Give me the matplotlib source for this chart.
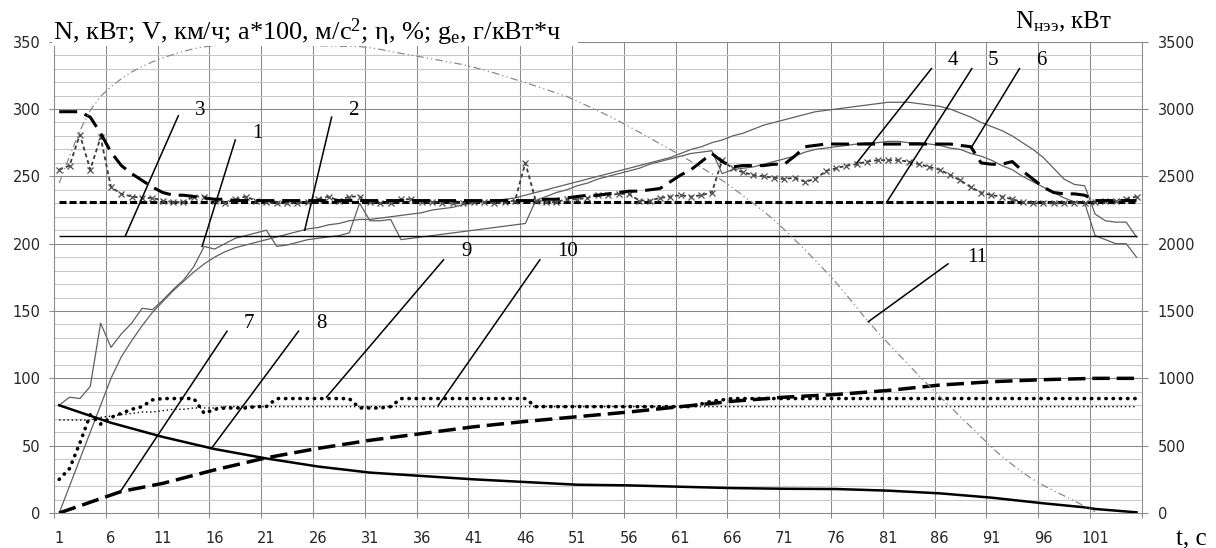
import numpy as np
import matplotlib.pyplot as plt
from matplotlib.patches import Rectangle

plt.rcParams['mathtext.fontset'] = 'custom'
plt.rcParams['mathtext.rm'] = 'Liberation Serif'
plt.rcParams['mathtext.it'] = 'Liberation Serif:italic'
plt.rcParams['mathtext.bf'] = 'Liberation Serif:bold'

# time, s (category axis)
t = np.arange(1, 106)

# 1 - zigzag power curve
curve_1 = [80, 86, 85, 94, 141, 123, 133, 141, 152, 151,
           158, 166, 173, 183, 198, 196, 200, 204, 206, 208,
           210, 198, 199, 201, 203, 204, 205, 206, 208, 230,
           217, 217, 218, 203, 204, 205, 206, 207, 208, 209,
           210, 211, 212, 213, 214, 215, 232, 235, 238, 240,
           243, 245, 248, 250, 252, 254, 256, 259, 261, 263,
           265, 267, 268, 269, 252, 255, 256, 257, 259, 261,
           263, 265, 268, 270, 271, 272, 273, 274, 275, 275,
           276, 276, 275, 275, 274, 273, 271, 270, 267, 265,
           262, 258, 255, 250, 246, 242, 238, 234, 231, 230,
           206, 203, 200, 200, 190]

# 2 - smooth curve
curve_2 = [0, 20, 40, 60, 80, 100, 116, 128, 139, 149,
           157, 165, 172, 179, 185, 190, 194, 197, 199, 201,
           203, 205, 207, 209, 211, 212, 214, 215, 217, 218,
           218, 219, 220, 221, 222, 223, 225, 226, 227, 229,
           230, 231, 232, 233, 234, 236, 238, 240, 242, 244,
           246, 248, 250, 252, 254, 256, 258, 260, 262, 264,
           267, 270, 272, 275, 277, 280, 282, 285, 288, 290,
           292, 294, 296, 298, 299, 300, 301, 302, 303, 304,
           305, 305, 305, 304, 303, 302, 300, 297, 294, 290,
           287, 284, 280, 275, 270, 264, 256, 248, 244, 243,
           222, 217, 216, 216, 205]

# 3 and 5 - constant levels
level_3 = 206
level_5 = 231

# 4 - dashed curve with x markers
curve_4 = [255, 258, 281, 255, 279, 242, 237, 235, 234, 234,
           232, 231, 231, 235, 235, 232, 230, 233, 235, 232,
           231, 230, 230, 230, 231, 233, 235, 232, 235, 235,
           231, 230, 230, 233, 233, 231, 231, 230, 230, 230,
           231, 231, 230, 231, 232, 260, 232, 231, 231, 233,
           233, 234, 236, 236, 237, 237, 232, 232, 234, 235,
           236, 235, 236, 238, 262, 256, 253, 251, 250, 249,
           248, 249, 246, 248, 254, 256, 258, 259, 261, 262,
           262, 262, 261, 259, 257, 255, 251, 247, 242, 238,
           236, 235, 233, 231, 230, 230, 230, 230, 230, 230,
           231, 232, 232, 233, 235]

# 6 - long-dashed curve
curve_6 = [298, 298, 298, 294, 282, 268, 258, 252, 247, 242,
           238, 236, 236, 235, 234, 233, 233, 232, 232, 232,
           232, 232, 232, 232, 232, 232, 232, 232, 232, 232,
           232, 232, 232, 232, 232, 232, 232, 232, 232, 232,
           232, 232, 232, 232, 232, 232, 232, 233, 233, 234,
           235, 236, 236, 237, 238, 239, 239, 240, 241, 246,
           251, 255, 261, 267, 261, 257, 258, 258, 258, 259,
           259, 265, 272, 273, 274, 274, 274, 274, 274, 274,
           274, 274, 274, 274, 274, 274, 274, 273, 272, 260,
           259, 259, 261, 254, 248, 242, 238, 237, 237, 236,
           232, 232, 232, 232, 232]

# 7 - rising dashed curve
t_7 = [1, 7, 11, 16, 21, 26, 31, 36, 41, 46, 51,
       56, 61, 66, 71, 76, 81, 86, 91, 96, 101, 105]
curve_7 = [0, 16, 22, 32, 41, 48, 54, 59, 64, 68, 71.5,
           75, 79, 83, 86, 88, 91, 95, 97.5, 99, 100, 100]

# 8 - falling solid curve
t_8 = [1, 6, 11, 16, 21, 26, 31, 36, 41, 46, 51, 56,
       61, 66, 71, 76, 81, 86, 91, 96, 100, 101, 105]
curve_8 = [80, 67, 56.5, 47.5, 40.5, 34.5, 30, 27.5, 25, 23, 21, 20.5,
           19.5, 18.5, 18, 17.8, 16.6, 14.6, 11.4, 7.2, 4.2, 3, 0.5]

# 9 - bold dotted curve
curve_9 = [25, 33, 52, 73, 66, 71, 74, 77, 79, 84,
           85, 85, 85, 85, 74, 77, 78, 78, 78, 79,
           79, 85, 85, 85, 85, 85, 85, 85, 85, 78,
           78, 78, 79, 85, 85, 85, 85, 85, 85, 85,
           85, 85, 85, 85, 85, 85, 79, 79, 79, 79,
           79, 79, 79, 79, 79, 79, 79, 79, 79, 79,
           79, 79, 81, 83, 84, 85, 85, 85, 85, 85,
           85, 85, 85, 85, 85, 85, 85, 85, 85, 85,
           85, 85, 85, 85, 85, 85, 85, 85, 85, 85,
           85, 85, 85, 85, 85, 85, 85, 85, 85, 85,
           85, 85, 85, 85, 85]

# 10 - thin dotted curve
curve_10 = [69, 69, 69, 69, 71, 72, 73, 74, 75, 75,
            76, 77, 77, 78, 78, 78, 79, 79, 79, 79,
            79, 79, 79, 79, 79, 79, 79, 79, 79, 79,
            79, 79, 79, 79, 79, 79, 79, 79, 79, 79,
            79, 79, 79, 79, 79, 79, 79, 79, 79, 79,
            79, 79, 79, 79, 79, 79, 79, 79, 79, 79,
            79, 79, 79, 79, 79, 79, 79, 79, 79, 79,
            79, 79, 79, 79, 79, 79, 79, 79, 79, 79,
            79, 79, 79, 79, 79, 79, 79, 79, 79, 79,
            79, 79, 79, 79, 79, 79, 79, 79, 79, 79,
            79, 79, 79, 79, 79]

# 11 - N_нээ, кВт (right axis)
t_11 = np.arange(1, 102)
curve_11 = [2450, 2650, 2840, 2990, 3095, 3165, 3225, 3275, 3315, 3350,
            3380, 3405, 3428, 3448, 3462, 3470, 3474, 3476, 3477, 3477,
            3477, 3476, 3475, 3474, 3472, 3470, 3468, 3466, 3465, 3464,
            3455, 3443, 3428, 3413, 3400, 3386, 3372, 3358, 3343, 3330,
            3310, 3290, 3268, 3244, 3220, 3196, 3171, 3145, 3119, 3093,
            3058, 3023, 2987, 2950, 2912, 2870, 2828, 2785, 2742, 2700,
            2655, 2610, 2565, 2520, 2470, 2415, 2358, 2300, 2240, 2175,
            2105, 2030, 1955, 1875, 1795, 1710, 1620, 1525, 1430, 1345,
            1262, 1180, 1100, 1020, 942, 866, 790, 715, 640, 565,
            490, 420, 360, 300, 250, 205, 165, 128, 90, 50,
            10]

# curve numbers: label text, pointer tip, pointer top, label position
labels = ['1', '2', '3', '4', '5', '6', '7', '8', '9', '10', '11']
tips = [(14.8, 198), (24.7, 210), (7.4, 206), (78.0, 260), (80.9, 231), (89.1, 272),
        (7.0, 17), (15.7, 48), (26.8, 86), (37.6, 80), (79.1, 142)]
tops = [(18.0, 277), (27.3, 294), (12.5, 295), (85.2, 330), (89.1, 330), (93.7, 330),
        (17.2, 135), (24.1, 135), (38.1, 188), (47.4, 188), (86.8, 185)]
label_pos = [(20.1, 282), (29.4, 299), (14.6, 299), (87.3, 336), (91.1, 336), (95.8, 336),
             (19.3, 141), (26.3, 141), (40.3, 194), (50.1, 194), (89.6, 190)]

W, H = 1216, 548
fig = plt.figure(figsize=(W / 100, H / 100), dpi=100)
ax = fig.add_axes([54 / W, 35 / H, 1087.7 / W, 471.3 / H])

grid_dark = '#8a8a8a'
grid_light = '#c8c8c8'
serif = 'Liberation Serif'
tick_color = '#262626'

ax.set_xlim(0.5, 105.5)
ax.set_ylim(0, 350)
ax.set_axisbelow(True)

ax.set_xticks(np.arange(0.5, 106, 5))
ax.set_xticklabels([])
ax.set_xticks(np.arange(1, 102, 5), minor=True)
ax.set_xticklabels([str(v) for v in range(1, 102, 5)], minor=True)
ax.set_yticks(np.arange(0, 351, 50))
ax.set_yticks(np.arange(0, 351, 10), minor=True)

ax.grid(True, which='major', axis='both', color=grid_dark, lw=0.75)
ax.grid(True, which='minor', axis='y', color=grid_light, lw=0.75)
ax.tick_params(axis='both', which='major', length=3.5, color=grid_dark, width=0.75,
               labelsize=10.5, labelcolor=tick_color, pad=6)
ax.tick_params(axis='x', which='minor', length=0, labelsize=10.5,
               labelcolor=tick_color, pad=13)
ax.tick_params(axis='y', which='minor', length=0)
for sp in ax.spines.values():
    sp.set_color(grid_dark)
    sp.set_linewidth(0.75)

# lines on the left axis
ax.plot(t, curve_2, color='#606060', lw=0.9)
ax.plot(t, curve_1, color='#606060', lw=0.9)
ax.hlines(level_3, t[0], t[-1], color='black', lw=1.0)
ax.plot(t, curve_10, color='black', lw=1.0, ls=(0, (1, 2)))
ax.plot(t, curve_9, color='black', lw=2.6, ls=(0, (0.1, 1.9)), dash_capstyle='round')
ax.plot(t_8, curve_8, color='black', lw=1.8)
ax.plot(t_7, curve_7, color='black', lw=2.5, ls=(0, (5, 2)))
ax.hlines(level_5, t[0], t[-1], color='black', lw=2.2, ls=(0, (2.3, 1.0)))
ax.plot(t, curve_4, color='#3a3a3a', lw=1.3, ls=(0, (2.2, 1.7)),
        marker='x', ms=4.5, mew=0.9, mec='#505050')
ax.plot(t, curve_6, color='black', lw=2.2, ls=(0, (5.9, 2.6)))

# right axis for N_нээ
ax2 = ax.twinx()
ax2.set_ylim(0, 3500)
ax2.set_yticks(np.arange(0, 3501, 500))
ax2.tick_params(axis='y', length=4.5, color=grid_dark, width=0.75,
                labelsize=10.5, labelcolor=tick_color, pad=7)
for sp in ax2.spines.values():
    sp.set_visible(False)
ax2.plot(t_11, curve_11, color='#8a8a8a', lw=0.9, ls=(0, (6, 2.5, 1, 2.5, 1, 2.5)))

# numbered pointers
for lab, tip, top, pos in zip(labels, tips, tops, label_pos):
    ax.plot([tip[0], top[0]], [tip[1], top[1]], color='black', lw=1.1, zorder=6)
    ax.text(pos[0], pos[1], lab, fontfamily=serif, fontsize=15,
            ha='center', va='center', zorder=6)

# title block covering the top edge
fig.add_artist(Rectangle((52 / W, 1 - 46 / H), (578 - 52) / W, 46 / H,
                         transform=fig.transFigure, facecolor='white',
                         edgecolor='none', zorder=5))
fig.text(53 / W, 1 - 40 / H,
         r'N, кВт; V, км/ч; a*100, м/с$^{2}$; η, %; g$_{\mathrm{e}}$, г/кВт*ч',
         fontfamily=serif, fontsize=19, va='baseline', zorder=6)
fig.text(1015 / W, 1 - 28 / H, r'N$_{\mathrm{нээ}}$, кВт',
         fontfamily=serif, fontsize=18, va='baseline', zorder=6)
fig.text(1176 / W, 1 - 545 / H, 't, с',
         fontfamily=serif, fontsize=18, va='baseline', zorder=6)

fig.savefig('out.png', dpi=100)
